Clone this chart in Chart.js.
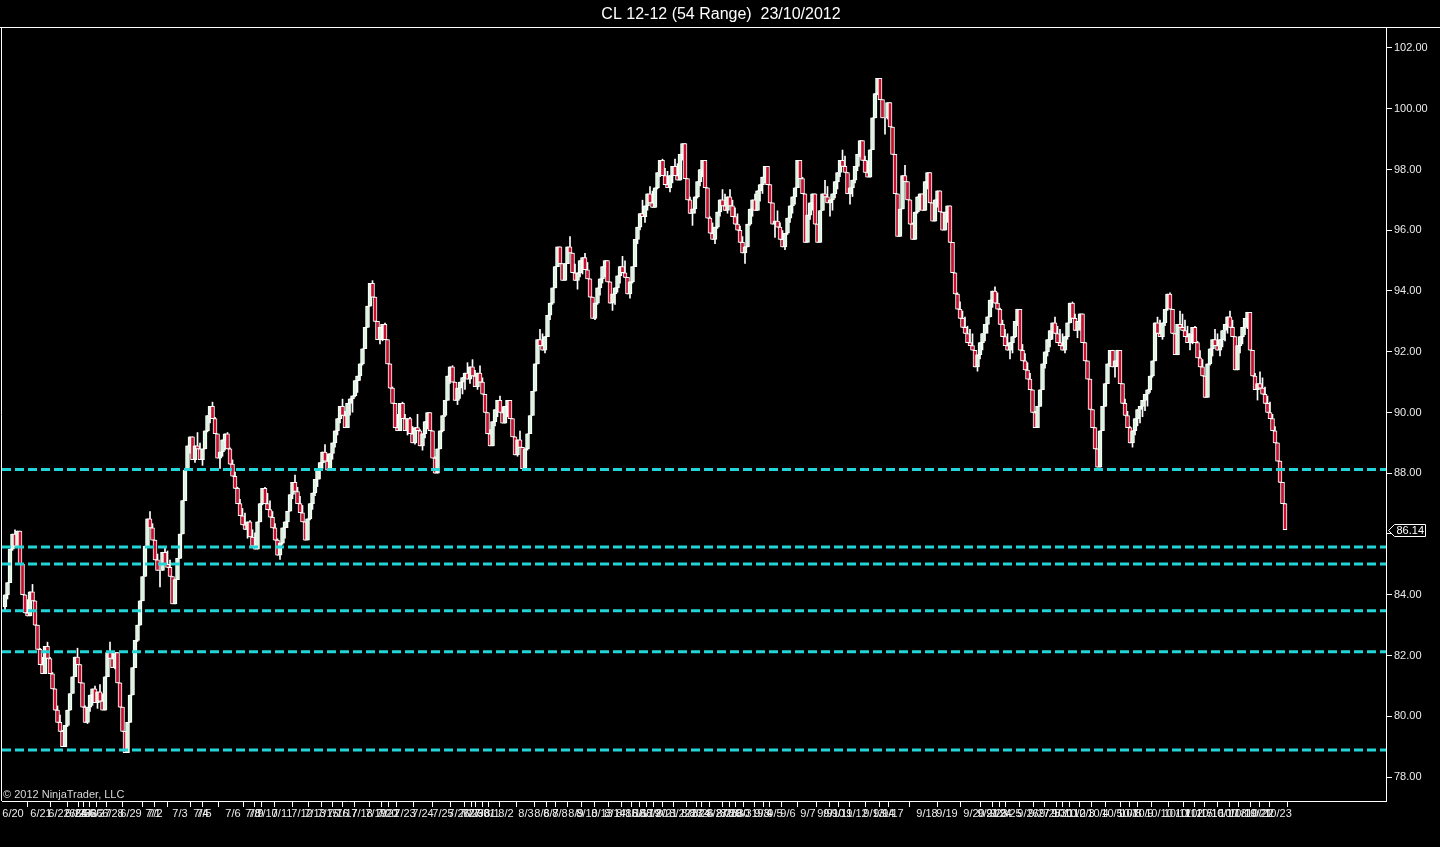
<!DOCTYPE html>
<html>
<head>
<meta charset="utf-8">
<title>CL 12-12 (54 Range)</title>
<script src="https://cdn.jsdelivr.net/npm/chart.js@4.4.1/dist/chart.umd.min.js"></script>
<style>
  html, body { margin: 0; padding: 0; background: #000; overflow: hidden; }
  #wrap { position: relative; width: 1440px; height: 847px; }
</style>
</head>
<body>
<div id="wrap"><canvas id="chart"></canvas></div>
<script>
const chartTitle = 'CL 12-12 (54 Range)  23/10/2012'
const copyright = '\u00A9 2012 NinjaTrader, LLC'
const barRange = 0.54
const firstOpen = 83.6

// close of every 54-tick range bar, left to right
const closes = [
  84.0, 84.4, 85.5, 86.0, 85.6, 86.1, 85.0, 84.0, 83.4, 83.3, 84.1, 83.8,
  83.0, 82.2, 81.7, 81.4, 82.3, 81.9, 81.4, 80.9, 80.2, 79.8, 79.5, 79.0,
  79.7, 80.2, 80.75, 81.3, 81.95, 81.7, 81.1, 80.3, 79.8, 80.3, 80.7, 80.9,
  80.45, 80.8, 80.5, 80.2, 81.3, 82.1, 81.9, 81.6, 82.1, 81.1, 80.3, 79.5,
  78.8, 79.8, 80.7, 81.6, 82.5, 83.0, 83.8, 84.6, 85.6, 86.5, 86.2, 85.8,
  85.15, 84.8, 84.8, 85.4, 85.0, 84.9, 84.6, 83.7, 84.5, 85.2, 86.0, 87.1,
  88.1, 88.9, 89.2, 88.45, 88.9, 88.8, 88.45, 88.8, 89.4, 89.9, 90.2, 89.8,
  89.3, 88.5, 88.7, 89.1, 89.3, 88.8, 88.3, 87.9, 87.5, 87.0, 86.6, 86.3,
  86.15, 86.4, 85.9, 85.6, 85.5, 86.4, 87.0, 87.5, 87.0, 86.8, 86.55, 86.2,
  85.8, 85.3, 85.7, 86.2, 86.4, 86.75, 87.3, 87.7, 87.4, 87.0, 86.7, 86.4,
  85.8, 86.5, 87.0, 87.35, 87.8, 88.1, 88.35, 88.7, 88.4, 88.1, 88.65, 89.0,
  89.4, 89.8, 90.2, 89.9, 89.5, 90.3, 90.45, 90.55, 91.05, 91.2, 91.6, 92.1,
  92.8, 93.5, 94.25, 93.8, 93.0, 92.4, 92.8, 92.9, 92.4, 91.6, 90.8, 90.3,
  89.5, 89.4, 90.3, 89.8, 89.4, 89.8, 89.3, 89.0, 89.5, 89.4, 88.9, 89.3,
  89.7, 90.0, 89.4, 88.5, 88.0, 88.8, 89.4, 89.9, 90.4, 91.2, 91.5, 91.0,
  90.4, 90.8, 91.0, 91.15, 91.3, 91.1, 91.5, 91.2, 90.85, 91.3, 91.0, 90.6,
  90.0, 89.3, 88.9, 89.7, 90.1, 90.4, 90.0, 89.65, 90.2, 90.4, 89.8, 89.2,
  88.6, 89.1, 88.85, 88.15, 88.8, 89.3, 89.9, 90.7, 91.6, 92.4, 92.2, 92.05,
  92.5, 93.2, 93.6, 94.1, 94.8, 95.45, 94.9, 94.35, 94.9, 95.45, 95.25, 94.6,
  94.35, 94.6, 95.0, 95.1, 94.7, 94.4, 93.8, 93.1, 93.6, 94.1, 94.4, 94.8,
  95.0, 94.3, 93.6, 93.9, 94.1, 94.5, 94.8, 94.6, 94.45, 93.9, 94.3, 94.8,
  95.7, 96.1, 96.55, 96.45, 96.8, 97.2, 96.9, 96.75, 97.4, 97.9, 98.3, 97.8,
  97.5, 97.4, 97.8, 98.1, 97.8, 97.65, 98.5, 98.85, 97.7, 97.0, 96.55, 96.7,
  97.1, 97.6, 98.0, 98.3, 97.4, 96.4, 95.9, 95.7, 96.1, 96.6, 97.0, 96.8,
  96.65, 97.1, 96.8, 96.45, 96.2, 96.0, 95.6, 95.25, 95.45, 96.2, 96.7, 97.0,
  96.65, 97.3, 97.5, 97.75, 98.1, 97.5, 96.9, 96.2, 96.3, 96.1, 95.7, 95.45,
  95.9, 96.4, 96.8, 97.1, 97.4, 98.3, 97.7, 97.2, 95.6, 96.5, 96.9, 97.2,
  96.2, 95.6, 96.65, 97.2, 97.1, 96.9, 97.0, 97.2, 97.6, 97.9, 98.3, 98.1,
  97.9, 97.2, 97.4, 97.65, 98.1, 98.5, 98.95, 98.3, 97.9, 97.75, 98.65, 99.7,
  100.5, 101.0, 100.3, 99.7, 99.7, 100.2, 99.4, 98.5, 97.2, 95.8, 96.7, 97.8,
  97.6, 97.0, 96.2, 95.7, 96.6, 97.1, 97.2, 96.65, 97.6, 97.9, 96.9, 96.3,
  97.0, 97.3, 96.6, 96.0, 96.6, 96.8, 95.6, 94.6, 93.9, 93.4, 93.1, 92.8,
  92.6, 92.3, 92.2, 92.05, 91.5, 91.9, 92.3, 92.6, 92.9, 93.15, 93.7, 94.0,
  93.6, 93.4, 92.9, 92.5, 92.2, 92.05, 92.3, 92.5, 93.0, 93.4, 92.05, 91.7,
  91.4, 91.1, 90.75, 90.0, 89.5, 90.2, 90.75, 91.6, 92.0, 92.4, 92.7, 92.95,
  92.6, 92.3, 92.2, 92.05, 92.5, 92.95, 93.6, 93.1, 92.7, 93.0, 93.25, 92.3,
  91.7, 91.1, 90.1, 89.5, 88.8, 88.2, 89.4, 90.2, 90.95, 91.6, 92.05, 91.5,
  91.7, 92.05, 90.95, 90.3, 89.9, 89.5, 89.0, 89.4, 89.8, 90.1, 90.2, 90.4,
  90.6, 90.75, 91.2, 91.7, 92.95, 92.6, 92.5, 92.95, 93.4, 93.9, 93.4, 92.6,
  91.9, 92.9, 92.8, 92.7, 92.5, 92.3, 92.6, 92.8, 92.3, 91.8, 91.5, 91.2,
  90.5, 91.6, 92.1, 92.4, 92.2, 92.05, 92.4, 92.7, 92.9, 93.15, 92.8, 92.5,
  91.4, 92.2, 92.5, 92.8, 93.1, 93.3, 92.05, 91.2, 90.75, 90.95, 90.8, 90.6,
  90.3, 90.0, 89.8, 89.4, 89.0, 88.4, 87.7, 87.0, 86.14
]

// horizontal support levels (cyan dashed)
const levels = [88.12, 85.57, 85.01, 83.47, 82.12, 78.89]

const priceTicks = [78, 80, 82, 84, 86, 88, 90, 92, 94, 96, 98, 100, 102]

// session dates, placed at the bar index where each one starts
const dateTicks = [
  3.2, 14.4, 21.6, 28.4, 30, 32.4, 34.8, 38, 43.2, 50.4, 59.2, 60, 70, 78.4, 79.6,
  91.2, 99.2, 100.4, 104.8, 110.8, 118.8, 124, 129.2, 133.2, 136.8, 142.8, 148.4,
  152.8, 153.6, 160, 167.2, 175.2, 181.6, 186, 187.2, 189.6, 192,
  194.8, 200.4, 208.4, 214.8, 218.4, 222, 228.4, 232.8, 238.8, 244, 248.8, 252.4,
  255.2, 258, 260.8, 264.8, 270, 274.8, 278, 279.2, 284.8, 288.8, 290.4, 293.6,
  296.8, 302.8, 304, 308, 313.2, 321.2, 328, 331.6, 334.8, 340.8, 347.6, 351.6,
  355.2, 368.8, 376.8,
  387.6, 393.2, 396.8, 398.4, 402.4, 409.2, 413.6, 418, 422.8, 423.2, 428, 431.6,
  437.2, 442.8, 449.2, 450.4, 455.2, 461.6, 468.8, 473.6, 477.6, 482, 488, 491.2,
  495.2, 501.2, 502, 509.2
]
const dateLabels = [
  '6/20', '6/21', '6/22', '6/24', '6/25', '6/26', '6/26', '6/27', '6/28', '6/29', '7/1', '7/2', '7/3', '7/4', '7/5',
  '7/6', '7/8', '7/9', '7/10', '7/11', '7/12', '7/13', '7/15', '7/16', '7/17', '7/18', '7/19',
  '7/20', '7/22', '7/23', '7/24', '7/25', '7/26', '7/27', '7/29', '7/30', '7/31',
  '8/1', '8/2', '8/3', '8/6', '8/7', '8/8', '8/9', '8/10', '8/13', '8/14', '8/15', '8/16',
  '8/17', '8/19', '8/20', '8/21', '8/22', '8/23', '8/24', '8/26', '8/27', '8/28', '8/29', '8/30',
  '8/31', '9/3', '9/4', '9/5', '9/6', '9/7', '9/9', '9/10', '9/11', '9/12', '9/13', '9/14',
  '9/17', '9/18', '9/19',
  '9/20', '9/21', '9/23', '9/24', '9/25', '9/26', '9/27', '9/28', '9/30', '10/1', '10/2', '10/3',
  '10/4', '10/5', '10/7', '10/8', '10/9', '10/10', '10/11', '10/12', '10/15', '10/16', '10/17', '10/18',
  '10/19', '10/21', '10/22', '10/23'
]

const upFill = '#dcf5e0'
const downFill = '#c8102e'
const levelColor = '#22d6d8'
const textColor = '#ececec'
const fontFamily = '"Liberation Sans", Arial, sans-serif'

// visible window of the x axis (bar index units), leaves empty room right of the last bar
const xMin = -1.2
const xMax = 552.4
const yMin = 77.21
const yMax = 102.658

const bodies = []
const wicks = []
const fills = []
closes.forEach((c, i) => {
  const o = i === 0 ? firstOpen : closes[i - 1]
  const up = c >= o
  const hi = up ? c : Math.max(o, c + barRange)
  const lo = up ? Math.min(o, c - barRange) : c
  bodies.push({x: i, y: [o, c]})
  wicks.push({x: i, y: [lo, hi]})
  fills.push(up ? upFill : downFill)
})

const levelSets = levels.map(l => ({
  type: 'line',
  data: [{x: xMin, y: l}, {x: xMax, y: l}],
  borderColor: levelColor,
  borderWidth: 3,
  borderDash: [9, 4],
  pointRadius: 0,
  order: 0
}))

const overlay = {
  id: 'overlay',
  afterDraw(chart) {
    const {ctx, chartArea: a} = chart
    const y = chart.scales.y
    ctx.save()
    ctx.strokeStyle = '#fff'
    ctx.lineWidth = 1
    ctx.beginPath()
    ctx.moveTo(0, a.top - 0.5)
    ctx.lineTo(chart.width, a.top - 0.5)
    ctx.moveTo(a.left - 0.5, a.top)
    ctx.lineTo(a.left - 0.5, a.bottom)
    ctx.stroke()

    ctx.fillStyle = '#d8d8d8'
    ctx.font = '11px ' + fontFamily
    ctx.textBaseline = 'alphabetic'
    ctx.textAlign = 'left'
    ctx.fillText(copyright, a.left + 1, a.bottom - 3)

    // last price marker
    const last = closes[closes.length - 1]
    const py = Math.round(y.getPixelForValue(last)) + 0.5
    const x0 = a.right + 2.5
    ctx.beginPath()
    ctx.moveTo(x0, py)
    ctx.lineTo(x0 + 6, py - 6)
    ctx.lineTo(x0 + 37, py - 6)
    ctx.lineTo(x0 + 37, py + 6)
    ctx.lineTo(x0 + 6, py + 6)
    ctx.closePath()
    ctx.fillStyle = '#000'
    ctx.fill()
    ctx.stroke()
    ctx.fillStyle = '#fff'
    ctx.textBaseline = 'middle'
    ctx.fillText(last.toFixed(2), x0 + 8, py + 0.5)
    ctx.restore()
  }
}

new Chart(document.getElementById('chart'), {
  type: 'bar',
  data: {
    datasets: [
      ...levelSets,
      {
        data: bodies,
        backgroundColor: fills,
        borderColor: '#ffffff',
        borderWidth: 1,
        borderSkipped: false,
        barThickness: 4,
        grouped: true,
        order: 1
      },
      {
        data: wicks,
        backgroundColor: '#ffffff',
        borderWidth: 0,
        barThickness: 1,
        maxBarThickness: 1,
        grouped: false,
        order: 2
      }
    ]
  },
  options: {
    responsive: true,
    maintainAspectRatio: false,
    animation: false,
    events: [],
    layout: {padding: {left: 2, right: 0, top: 0, bottom: 0}},
    plugins: {
      legend: {display: false},
      tooltip: {enabled: false},
      title: {
        display: true,
        text: chartTitle,
        color: '#ffffff',
        font: {family: fontFamily, size: 16, weight: 'normal'},
        padding: {top: 5, bottom: 3.8}
      }
    },
    scales: {
      x: {
        type: 'linear',
        min: xMin,
        max: xMax,
        offset: false,
        afterBuildTicks: axis => { axis.ticks = dateTicks.map(v => ({value: v})) },
        afterFit: scale => { scale.height = 46 },
        border: {display: true, color: '#ffffff', width: 1},
        grid: {display: true, drawOnChartArea: false, drawTicks: true, tickLength: 6, color: '#ffffff', tickColor: '#ffffff'},
        ticks: {
          autoSkip: false,
          maxRotation: 0,
          minRotation: 0,
          padding: 0,
          color: textColor,
          font: {family: fontFamily, size: 11},
          callback: (v, i) => dateLabels[i]
        }
      },
      y: {
        position: 'right',
        min: yMin,
        max: yMax,
        afterBuildTicks: axis => { axis.ticks = priceTicks.map(v => ({value: v})) },
        afterFit: scale => { scale.width = 54 },
        border: {display: true, color: '#ffffff', width: 1},
        grid: {display: true, drawOnChartArea: false, drawTicks: true, tickLength: 6, color: '#ffffff', tickColor: '#ffffff'},
        ticks: {
          padding: 2,
          color: textColor,
          font: {family: fontFamily, size: 11},
          callback: v => v.toFixed(2)
        }
      }
    }
  },
  plugins: [overlay]
})
</script>
</body>
</html>
